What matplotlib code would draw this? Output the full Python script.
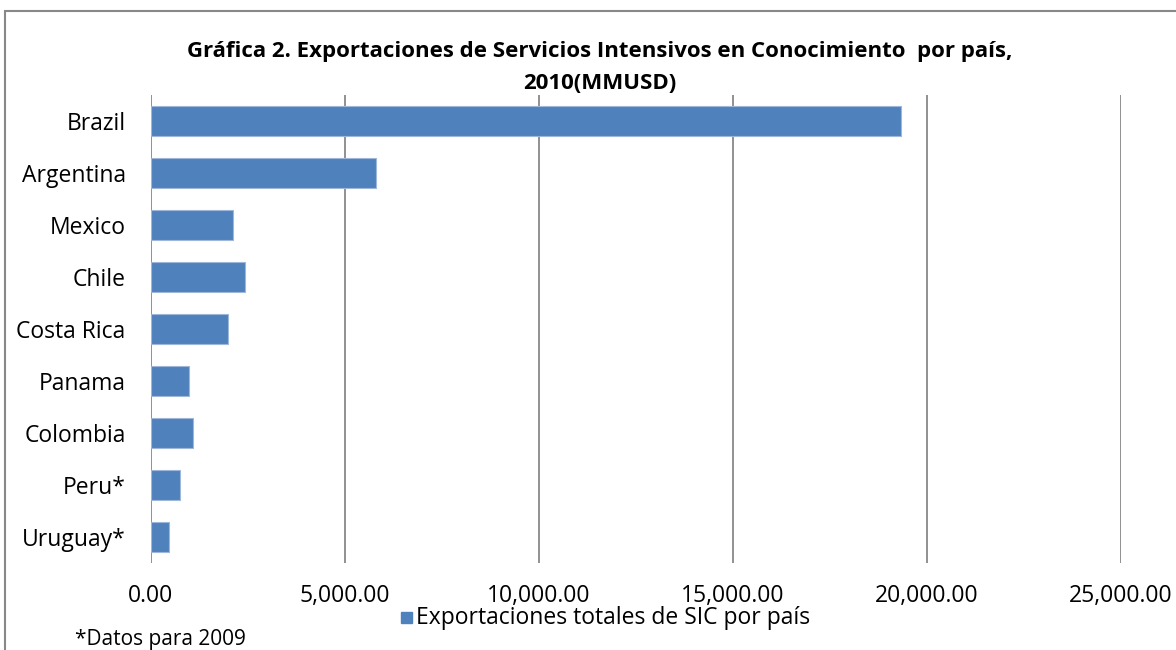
import matplotlib.pyplot as plt
import matplotlib.patches as patches
from matplotlib.ticker import FuncFormatter

paises = ["Brazil", "Argentina", "Mexico", "Chile", "Costa Rica",
          "Panama", "Colombia", "Peru*", "Uruguay*"]
exportaciones = [19340, 5810, 2110, 2440, 1985, 1000, 1080, 745, 485]
ticks_x = [0, 5000, 10000, 15000, 20000, 25000]

azul = "#4f81bd"
gris = "#888888"

plt.rcParams['font.family'] = ['Open Sans', 'DejaVu Sans']

fig = plt.figure(figsize=(11.76, 6.5), dpi=100)
ax = fig.add_axes([0.1281, 0.1338, 0.9532 - 0.1281, 0.8538 - 0.1338])

pos = list(range(len(paises)))
ax.barh(pos, exportaciones, height=0.58, color=azul, edgecolor="#9fb8da",
        linewidth=0.8, label="Exportaciones totales de SIC por país", zorder=3)
ax.set_ylim(len(paises) - 0.5, -0.5)
ax.set_yticks(pos)
ax.set_yticklabels(paises)
ax.set_xlim(0, 25000)
ax.set_xticks(ticks_x)
ax.xaxis.set_major_formatter(FuncFormatter(lambda v, p: "{:,.2f}".format(v)))
ax.grid(axis="x", color=gris, linewidth=1.3, zorder=0)
for s in ax.spines.values():
    s.set_visible(False)
ax.tick_params(axis="y", length=0, labelsize=16.5, pad=18)
ax.tick_params(axis="x", length=0, labelsize=16.5, pad=15)

fig.text(0.5102, 0.92, "Gráfica 2. Exportaciones de Servicios Intensivos en Conocimiento  por país,",
         ha="center", va="center", fontsize=16, fontweight="bold")
fig.text(0.5102, 0.871, "2010(MMUSD)", ha="center", va="center",
         fontsize=16, fontweight="bold")

# leyenda y nota
fig.patches.append(patches.Rectangle((401 / 1176, 1 - 623 / 650), 11 / 1176, 11 / 650,
                                     transform=fig.transFigure, color=azul))
fig.text(416 / 1176, 1 - 618 / 650, "Exportaciones totales de SIC por país",
         ha="left", va="center", fontsize=16.5)
fig.text(75 / 1176, 1 - 639 / 650, "*Datos para 2009", ha="left", va="center", fontsize=15)

# marco del grafico
fig.patches.append(patches.Rectangle((5 / 1176, -0.1), 1.2, 1 - 11 / 650 + 0.1,
                                     transform=fig.transFigure, fill=False,
                                     edgecolor=gris, linewidth=1.5))

fig.savefig("out.png", dpi=100)
